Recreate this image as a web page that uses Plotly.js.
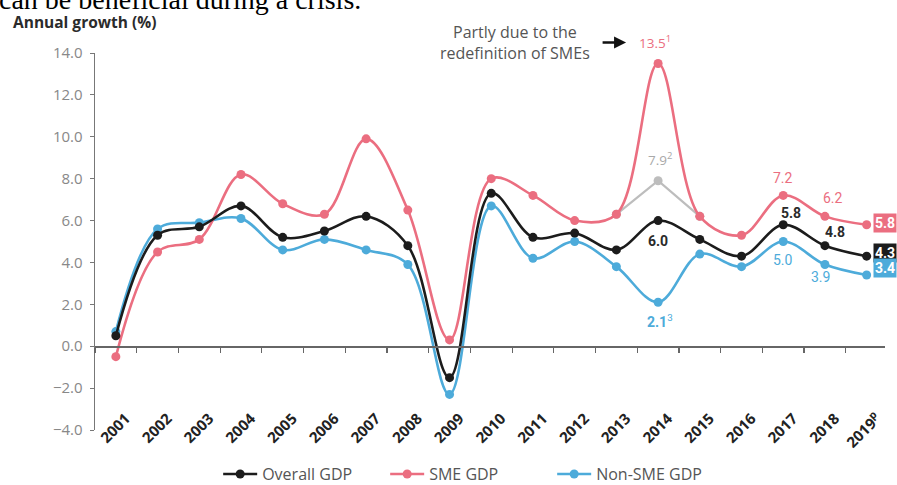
<!DOCTYPE html>
<html>
<head>
<meta charset="utf-8">
<script src="https://cdn.plot.ly/plotly-3.0.1.min.js"></script>
<style>
  html, body { margin: 0; padding: 0; background: #ffffff; }
  #chart { width: 897px; height: 485px; }
</style>
</head>
<body>
<div id="chart"></div>
<script>
// Annual growth of overall, SME and non-SME GDP, 2001-2019
const years = ['2001', '2002', '2003', '2004', '2005', '2006', '2007', '2008', '2009', '2010',
               '2011', '2012', '2013', '2014', '2015', '2016', '2017', '2018', '2019'];
const yearLabels = ['2001', '2002', '2003', '2004', '2005', '2006', '2007', '2008', '2009', '2010',
                    '2011', '2012', '2013', '2014', '2015', '2016', '2017', '2018', '2019<sup>p</sup>'];
const overallGdp = [0.5, 5.3, 5.7, 6.7, 5.2, 5.5, 6.2, 4.8, -1.5, 7.3, 5.2, 5.4, 4.6, 6.0, 5.1, 4.3, 5.8, 4.8, 4.3];
const smeGdp     = [-0.5, 4.5, 5.1, 8.2, 6.8, 6.3, 9.9, 6.5, 0.3, 8.0, 7.2, 6.0, 6.3, 13.5, 6.2, 5.3, 7.2, 6.2, 5.8];
const nonSmeGdp  = [0.7, 5.6, 5.9, 6.1, 4.6, 5.1, 4.6, 3.9, -2.3, 6.7, 4.2, 5.0, 3.8, 2.1, 4.4, 3.8, 5.0, 3.9, 3.4];
// SME GDP around 2014 on the previous SME definition
const smeOldDefYears = ['2013', '2014', '2015'];
const smeOldDefGdp   = [6.3, 7.9, 6.2];

const idx = y => years.indexOf(y);
const xs = years.map((_, i) => i);

const BLACK = '#1c1c1c';
const PINK = '#eb6e80';
const BLUE = '#4dabda';
const GREY = '#bdbdbd';
const FONT = 'Open Sans, Liberation Sans, sans-serif';

function series(name, y, color) {
  return {
    type: 'scatter', mode: 'lines+markers', name: name,
    x: xs, y: y,
    line: { color: color, width: 2.6, shape: 'spline', smoothing: 1 },
    marker: { color: color, size: 9 },
    hoverinfo: 'skip'
  };
}

const xRange = [-0.5, 18.44];
const boundaries = [-0.5].concat(xs.slice(0, -1).map(i => i + 0.5));

const traces = [
  // invisible trace that carries the zero-line axis
  {
    type: 'scatter', mode: 'lines', x: xRange, y: [0, 0], xaxis: 'x2',
    line: { width: 0 }, showlegend: false, hoverinfo: 'skip'
  },
  {
    type: 'scatter', mode: 'lines+markers', showlegend: false,
    x: smeOldDefYears.map(idx), y: smeOldDefGdp,
    line: { color: GREY, width: 2.2 },
    marker: { color: GREY, size: 9 },
    hoverinfo: 'skip'
  },
  series('Non-SME GDP', nonSmeGdp, BLUE),
  series('SME GDP', smeGdp, PINK),
  series('Overall GDP', overallGdp, BLACK)
];

function valueLabel(yr, arr, color, dx, dy, html) {
  const i = idx(yr);
  return {
    xref: 'x', yref: 'y', x: i, y: arr[i],
    text: html || arr[i].toFixed(1), showarrow: false,
    xshift: dx, yshift: dy,
    font: { family: 'Roboto, sans-serif', size: 14, color: color }
  };
}

function endBox(arr, color, dy) {
  const i = years.length - 1;
  return {
    xref: 'x', yref: 'y', x: i, y: arr[i],
    text: '<b>' + arr[i].toFixed(1) + '</b>', showarrow: false,
    xanchor: 'left', xshift: 6, yshift: dy,
    bgcolor: color, borderpad: 1,
    font: { family: 'Roboto, sans-serif', size: 14, color: '#ffffff' }
  };
}

const i14 = idx('2014');
const oldDef14 = smeOldDefGdp[smeOldDefYears.indexOf('2014')];

const annotations = [
  // serif sentence running in from above the chart
  {
    xref: 'paper', yref: 'paper', x: -0.124, y: 1.095, xanchor: 'left', yanchor: 'bottom',
    text: 'can be beneficial during a crisis.', showarrow: false,
    font: { family: 'Liberation Serif, serif', size: 28, color: '#000000' }
  },
  {
    xref: 'paper', yref: 'paper', x: -0.106, y: 1.082, xanchor: 'left', yanchor: 'middle',
    text: '<b>Annual growth (%)</b>', showarrow: false,
    font: { family: FONT, size: 15.5, color: '#2b2b2b' }
  },
  {
    xref: 'paper', yref: 'paper', x: 0.532, y: 1.028, xanchor: 'center', yanchor: 'middle',
    text: 'Partly due to the<br>redefinition of SMEs', showarrow: false,
    font: { family: FONT, size: 16, color: '#555555' }
  },
  // arrow pointing at the 2014 SME value
  {
    xref: 'x', yref: 'y', x: i14, y: smeGdp[i14],
    xshift: -32, yshift: 21, text: '', showarrow: true,
    ax: -25, ay: 0, arrowhead: 2, arrowsize: 1, arrowwidth: 2.4, arrowcolor: '#111111'
  },
  {
    xref: 'x', yref: 'y', x: i14, y: smeGdp[i14],
    text: smeGdp[i14].toFixed(1) + '<sup>1</sup>', showarrow: false,
    xshift: -3, yshift: 21,
    font: { family: FONT, size: 13.5, color: PINK }
  },
  {
    xref: 'x', yref: 'y', x: i14, y: oldDef14,
    text: oldDef14.toFixed(1) + '<sup>2</sup>', showarrow: false,
    xshift: 2, yshift: 22,
    font: { family: FONT, size: 13.5, color: '#a9a9a9' }
  },
  valueLabel('2014', overallGdp, '#2a2a2a', 0, -20, '<b>' + overallGdp[i14].toFixed(1) + '</b>'),
  valueLabel('2014', nonSmeGdp, BLUE, 2, -19, '<b>' + nonSmeGdp[i14].toFixed(1) + '</b><sup>3</sup>'),
  valueLabel('2017', smeGdp, PINK, 0, 17),
  valueLabel('2017', overallGdp, '#2a2a2a', 8, 12, '<b>' + overallGdp[idx('2017')].toFixed(1) + '</b>'),
  valueLabel('2017', nonSmeGdp, BLUE, 0, -18),
  valueLabel('2018', smeGdp, PINK, 8, 18),
  valueLabel('2018', overallGdp, '#2a2a2a', 10, 14, '<b>' + overallGdp[idx('2018')].toFixed(1) + '</b>'),
  valueLabel('2018', nonSmeGdp, BLUE, -4, -12),
  endBox(smeGdp, PINK, 2),
  endBox(overallGdp, BLACK, 3),
  endBox(nonSmeGdp, BLUE, 7)
];

const layout = {
  width: 897, height: 485,
  margin: { l: 95, r: 12, t: 53, b: 55, autoexpand: false },
  paper_bgcolor: '#ffffff', plot_bgcolor: '#ffffff',
  font: { family: FONT, color: '#555555' },
  showlegend: true,
  legend: {
    orientation: 'h', x: 0.473, xanchor: 'center', y: -0.117, yanchor: 'middle',
    font: { family: FONT, size: 16, color: '#555555' },
    traceorder: 'reversed', entrywidth: 118, itemwidth: 34
  },
  xaxis: {
    range: xRange, tickvals: xs, ticktext: yearLabels, tickangle: -45,
    showgrid: false, zeroline: false, showline: false, ticks: '',
    ticklabelstandoff: -24, ticklabelshift: 10,
    tickfont: { family: FONT, size: 15, color: '#222222', weight: 700 },
    fixedrange: true
  },
  xaxis2: {
    overlaying: 'x', anchor: 'free', position: 4 / 18, range: xRange,
    tickvals: boundaries, showticklabels: false, ticks: 'outside', ticklen: 5,
    tickcolor: '#666666', tickwidth: 1.2, showline: true, linecolor: '#666666', linewidth: 1.4,
    showgrid: false, zeroline: false, fixedrange: true
  },
  yaxis: {
    range: [-4, 14], tickvals: [-4, -2, 0, 2, 4, 6, 8, 10, 12, 14], tickformat: '.1f',
    showgrid: false, zeroline: false, showline: true, linecolor: '#777777', linewidth: 1.4,
    ticks: 'outside', ticklen: 4, tickcolor: '#777777', ticklabelstandoff: 4,
    tickfont: { family: FONT, size: 15, color: '#888888' },
    fixedrange: true
  },
  annotations: annotations
};

Plotly.newPlot('chart', traces, layout, { displayModeBar: false, staticPlot: true });
</script>
</body>
</html>
